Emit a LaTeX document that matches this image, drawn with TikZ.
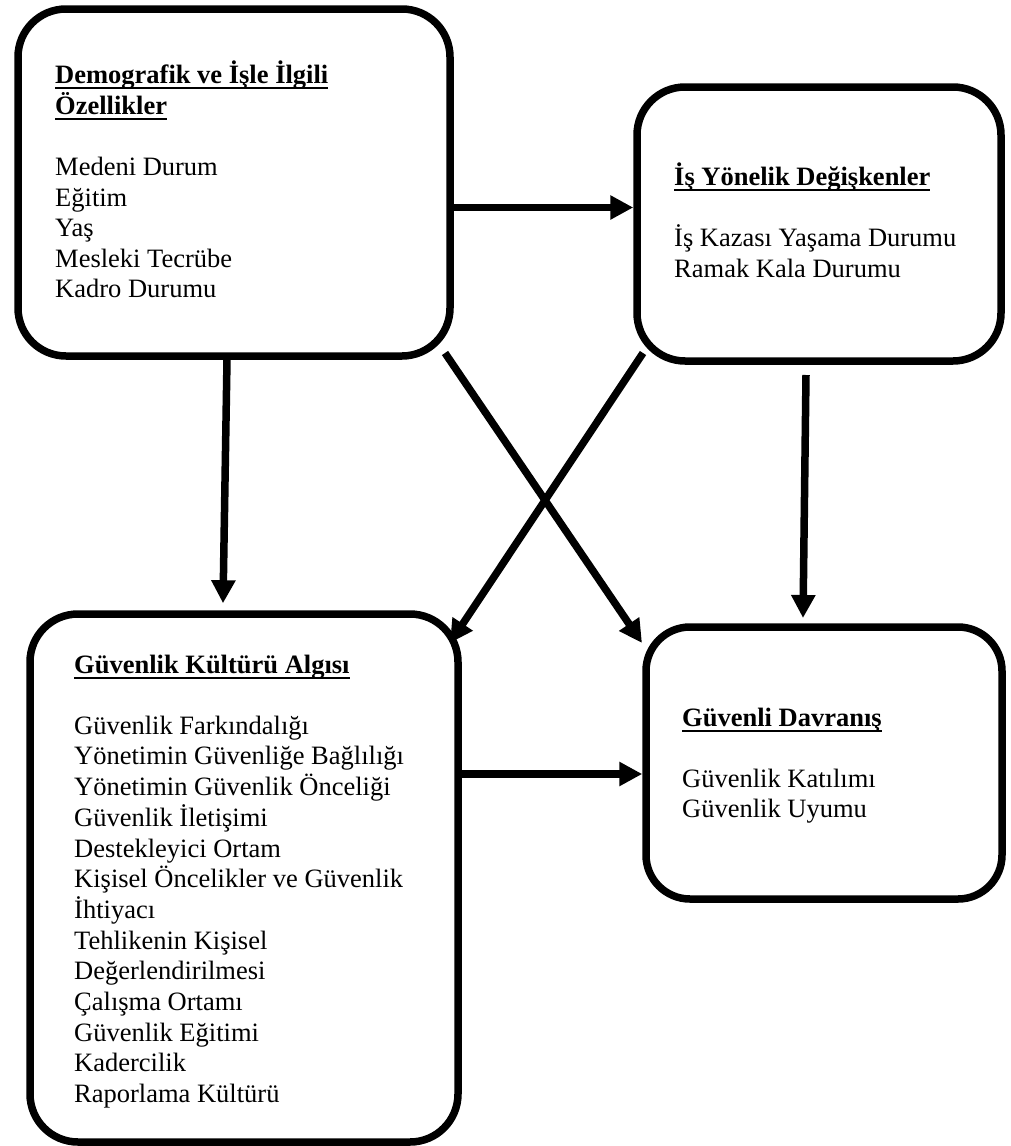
\documentclass[tikz,border=0pt]{standalone}
\usepackage{fontspec}
\setmainfont{Liberation Serif}
\usetikzlibrary{arrows.meta}

% bold heading with a rule under it
\newsavebox{\headbox}
\newcommand{\headline}[1]{%
  \sbox{\headbox}{\textbf{#1}}%
  \rlap{\rule[-5.7pt]{\wd\headbox}{2.2pt}}\usebox{\headbox}}

\begin{document}
\begin{tikzpicture}[x=1pt, y=-1pt,
  box/.style={draw, line width=7.5pt, rounded corners=48pt, inner sep=0pt},
  arr/.style={line width=7.5pt, -{Triangle[length=23pt, width=23pt]}},
  txt/.style={anchor=base west, inner sep=0pt, font=\fontsize{26.5}{30.6}\selectfont}]

\useasboundingbox (0,0) rectangle (1010,1146);

% the four boxes
\node[box, minimum width=432pt, minimum height=347pt] (A) at (234,182.5) {};
\node[box, minimum width=364pt, minimum height=274pt] (B) at (819,224) {};
\node[box, minimum width=428pt, minimum height=528pt] (C) at (244,878) {};
\node[box, rounded corners=44pt, minimum width=356pt, minimum height=272pt] (D) at (824,763) {};

% box contents
\node[txt] (tA) at (55,83) {\begin{tabular}[t]{@{}l@{}}
  \headline{Demografik ve İşle İlgili}\\
  \headline{Özellikler}\\
  \\
  Medeni Durum\\
  Eğitim\\
  Yaş\\
  Mesleki Tecrübe\\
  Kadro Durumu
\end{tabular}};

\node[txt] (tB) at (674,185) {\begin{tabular}[t]{@{}l@{}}
  \headline{İş Yönelik Değişkenler}\\
  \\
  İş Kazası Yaşama Durumu\\
  Ramak Kala Durumu
\end{tabular}};

\node[txt] (tC) at (74,673) {\begin{tabular}[t]{@{}l@{}}
  \headline{Güvenlik Kültürü Algısı}\\
  \\
  Güvenlik Farkındalığı\\
  Yönetimin Güvenliğe Bağlılığı\\
  Yönetimin Güvenlik Önceliği\\
  Güvenlik İletişimi\\
  Destekleyici Ortam\\
  Kişisel Öncelikler ve Güvenlik\\
  İhtiyacı\\
  Tehlikenin Kişisel\\
  Değerlendirilmesi\\
  Çalışma Ortamı\\
  Güvenlik Eğitimi\\
  Kadercilik\\
  Raporlama Kültürü
\end{tabular}};

\node[txt] (tD) at (682,726) {\begin{tabular}[t]{@{}l@{}}
  \headline{Güvenli Davranış}\\
  \\
  Güvenlik Katılımı\\
  Güvenlik Uyumu
\end{tabular}};

% connectors
\draw[arr] ([yshift=-25pt]A.east) -- ([yshift=-25pt]A.east -| B.west);
\draw[arr] ([xshift=-7pt]A.south) -- ([xshift=-21pt, yshift=7pt]C.north);
\draw[arr] ([xshift=-8.75pt, yshift=6.75pt]A.south east) -- ([xshift=-0.25pt, yshift=-19.75pt]D.north west);
\draw[arr] ([xshift=9.75pt, yshift=11.75pt]B.south west) -- ([xshift=-11.75pt, yshift=-32.75pt]C.north east);
\draw[arr] ([xshift=-13pt, yshift=-10.25pt]B.south) -- ([xshift=-21pt, yshift=5.25pt]D.north);
\draw[arr] ([yshift=-11pt]D.west -| C.east) -- ([yshift=-11pt]D.west);

\end{tikzpicture}
\end{document}
